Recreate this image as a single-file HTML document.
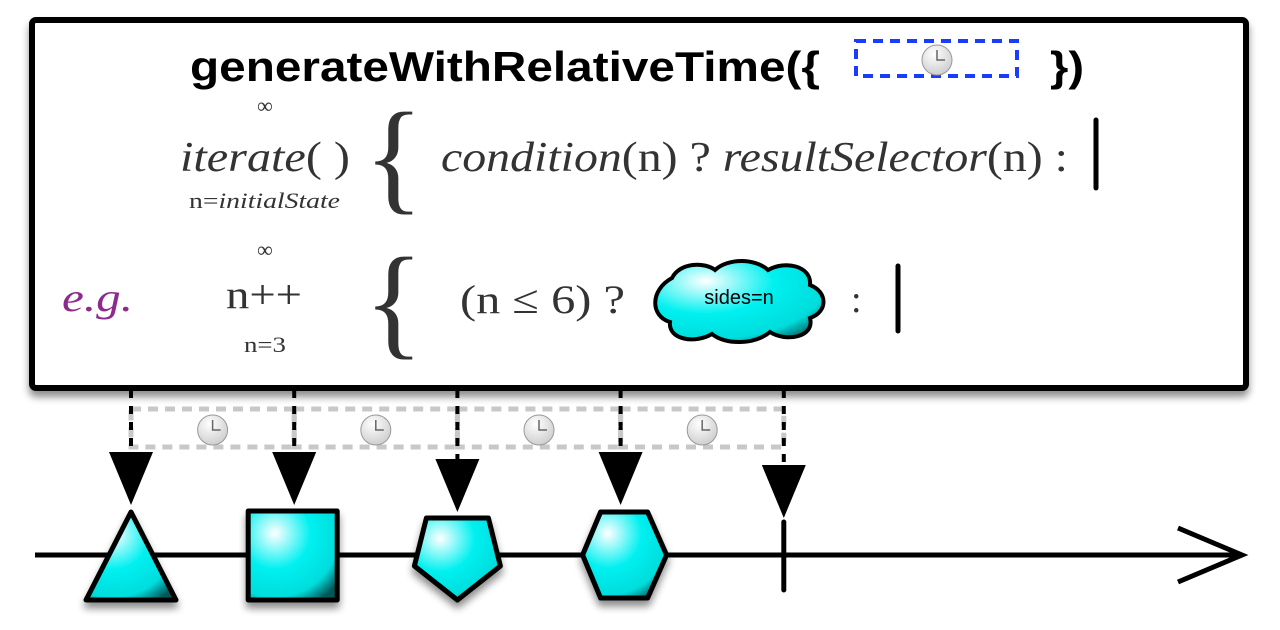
<!DOCTYPE html>
<html><head><meta charset="utf-8"><style>
html,body{margin:0;padding:0;background:#fff;}
svg{display:block}
.serif{font-family:"Liberation Serif",serif;fill:#333}
</style></head><body>
<svg width="1280" height="630" viewBox="0 0 1280 630">
<defs>
<radialGradient id="cy" cx="0.3" cy="0.25" r="0.9">
<stop offset="0" stop-color="#fff"/><stop offset="0.45" stop-color="#00f0f0"/><stop offset="0.8" stop-color="#00dcdc"/><stop offset="1" stop-color="#005858"/>
</radialGradient>
<radialGradient id="clk" cx="0.4" cy="0.3" r="0.8"><stop offset="0" stop-color="#fff"/><stop offset="1" stop-color="#c8c8c8"/></radialGradient>
<filter id="sh" x="-10%" y="-10%" width="130%" height="140%"><feGaussianBlur in="SourceAlpha" stdDeviation="4"/><feOffset dx="0" dy="6"/><feComponentTransfer><feFuncA type="linear" slope="0.45"/></feComponentTransfer><feMerge><feMergeNode/><feMergeNode in="SourceGraphic"/></feMerge></filter>
<g id="clock"><circle r="15" fill="url(#clk)" stroke="#999" stroke-width="1"/><path d="M0 -10 V0 H8" stroke="#666" stroke-width="1.5" fill="none"/></g>
</defs>

<line x1="35" y1="555" x2="1240" y2="555" stroke="#000" stroke-width="5"/>
<polyline points="1178,528 1242,555 1178,582" fill="none" stroke="#000" stroke-width="5"/>

<g id="events"></g>

<rect x="32" y="20" width="1214" height="368" rx="4" fill="#fff" stroke="#000" stroke-width="6" filter="url(#sh)"/>
<text x="190" y="81" font-family="Liberation Sans, sans-serif" font-weight="bold" font-size="42" fill="#000" textLength="630" lengthAdjust="spacingAndGlyphs">generateWithRelativeTime({</text>
<rect x="856" y="41" width="161" height="35" fill="none" stroke="#1a3cff" stroke-width="4" stroke-dasharray="10,7"/>
<use href="#clock" x="937" y="60"/>
<text x="1050" y="81" font-family="Liberation Sans, sans-serif" font-weight="bold" font-size="42" fill="#000" textLength="34" lengthAdjust="spacingAndGlyphs">})</text>

<text x="265" y="113" class="serif" font-size="22" text-anchor="middle">∞</text>
<text x="180" y="171" class="serif" font-size="42" textLength="170" lengthAdjust="spacingAndGlyphs"><tspan font-style="italic">iterate</tspan>( )</text>
<text x="189" y="208" class="serif" font-size="22" textLength="151" lengthAdjust="spacingAndGlyphs">n=<tspan font-style="italic">initialState</tspan></text>
<text x="364" y="198" class="serif" font-size="124">{</text>
<text x="441" y="171" class="serif" font-size="42" textLength="627" lengthAdjust="spacingAndGlyphs"><tspan font-style="italic">condition</tspan>(n) ? <tspan font-style="italic">resultSelector</tspan>(n) :</text>
<line x1="1096" y1="120" x2="1096" y2="188" stroke="#000" stroke-width="5" stroke-linecap="round"/>

<text x="62" y="311" font-family="Liberation Serif, serif" font-style="italic" font-size="40" fill="#8e2a8e" textLength="71" lengthAdjust="spacingAndGlyphs">e.g.</text>
<text x="265" y="257" class="serif" font-size="22" text-anchor="middle">∞</text>
<text x="226" y="308" class="serif" font-size="40" textLength="76" lengthAdjust="spacingAndGlyphs">n++</text>
<text x="244" y="352" class="serif" font-size="22" textLength="42" lengthAdjust="spacingAndGlyphs">n=3</text>
<text x="364" y="343" class="serif" font-size="124">{</text>
<text x="460" y="313" class="serif" font-size="40" textLength="165" lengthAdjust="spacingAndGlyphs">(n ≤ 6) ?</text>
<path d="M672 278 C680 262 705 262 715 270 C728 258 755 258 768 270 C785 260 812 266 810 285 C828 292 828 312 810 318 C815 338 785 342 770 332 C755 345 725 345 712 334 C695 344 668 340 670 322 C650 316 650 290 672 278 Z" fill="url(#cy)" stroke="#000" stroke-width="4"/>
<text x="739" y="304" font-family="Liberation Sans, sans-serif" font-size="20" text-anchor="middle" fill="#000">sides=n</text>
<text x="851" y="312" class="serif" font-size="38">:</text>
<line x1="898" y1="266" x2="898" y2="331" stroke="#000" stroke-width="5" stroke-linecap="round"/>

<script>
const eventTimes = [0, 1, 2, 3];
const eventSides = [3, 4, 5, 6];
const completeTime = 4;
function xScale(t){ return 131 + t * 163.2; }
const NS = "http://www.w3.org/2000/svg";
const g = document.getElementById('events');
function mk(tag, attrs){ const e = document.createElementNS(NS, tag); for (const k in attrs) e.setAttribute(k, attrs[k]); g.appendChild(e); return e; }
const allT = eventTimes.concat([completeTime]);
for (let i = 0; i < allT.length - 1; i++) {
  const x1 = xScale(allT[i]), x2 = xScale(allT[i+1]);
  const r = mk('rect', {x:x1, y:409, width:x2-x1, height:38, fill:'none', stroke:'#c8c8c8', 'stroke-width':5, 'stroke-dasharray':'10,7'});
  
  
  const c = document.createElementNS(NS, 'use');
  c.setAttribute('href', '#clock'); c.setAttribute('x', (x1+x2)/2); c.setAttribute('y', 430);
  
  
  g.appendChild(c);
}
allT.forEach((t, i) => {
  const x = xScale(t);
  const tipY = i < eventSides.length ? (eventSides[i] === 5 ? 512 : 505) : 518;
  const l = mk('line', {x1:x, y1:390, x2:x, y2:tipY-50, stroke:'#000', 'stroke-width':4, 'stroke-dasharray':'8,8'});
  
  
  const a = mk('polygon', {points:`${x-22},${tipY-53} ${x+22},${tipY-53} ${x},${tipY}`, fill:'#000'});
  
  
});
eventTimes.forEach((t, i) => {
  const x = xScale(t), n = eventSides[i];
  let pts;
  if (n === 3) pts = [[x,512],[x+45,600],[x-45,600]];
  else if (n === 4) pts = [[x-46,511],[x+43,511],[x+43,600],[x-46,600]];
  else if (n === 5) pts = [[x-31,518],[x+31,518],[x+43,566],[x,600],[x-43,566]];
  else pts = [[x-20,512],[x+27,512],[x+46,555],[x+27,598],[x-20,598],[x-38,555]];
  const p = mk('polygon', {points: pts.map(q => q.join(',')).join(' '), fill:'url(#cy)', stroke:'#000', 'stroke-width':5, 'stroke-linejoin':'round', filter:'url(#sh)'});
  
  
});
const ct = mk('line', {x1:xScale(completeTime), y1:522, x2:xScale(completeTime), y2:590, stroke:'#000', 'stroke-width':5, 'stroke-linecap':'round'});


</script>
</svg>
</body></html>
